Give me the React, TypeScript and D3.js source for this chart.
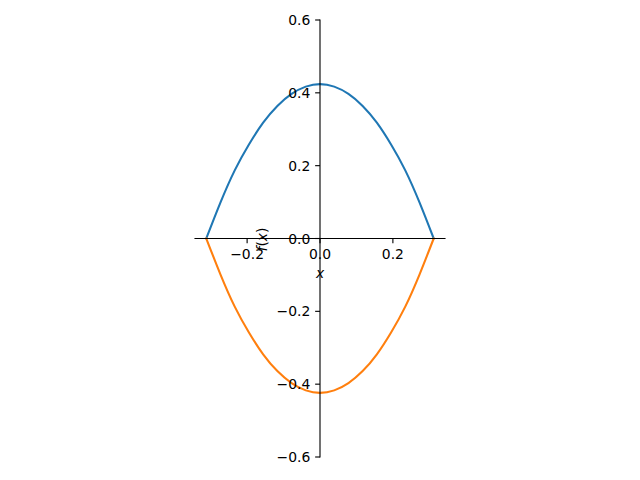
import React from "react";
import * as d3 from "d3";

// Values
const xValues = [-0.312, -0.273, -0.234, -0.195, -0.156, -0.117, -0.078, -0.039, 0, 0.039, 0.078, 0.117, 0.156, 0.195, 0.234, 0.273, 0.312];
const upperValues = [0, 0.099, 0.187, 0.258, 0.318, 0.364, 0.397, 0.417, 0.424, 0.417, 0.397, 0.364, 0.318, 0.258, 0.187, 0.099, 0];
const lowerValues = [0, -0.099, -0.187, -0.258, -0.318, -0.364, -0.397, -0.417, -0.424, -0.417, -0.397, -0.364, -0.318, -0.258, -0.187, -0.099, 0];
const xTicks = [-0.2, 0.0, 0.2];
const yTicks = [-0.6, -0.4, -0.2, 0.0, 0.2, 0.4, 0.6];
const seriesColors = ["#1f77b4", "#ff7f0e"];

const fmt = (v: number) => v.toFixed(1).replace("-", "\u2212");

export default function App() {
  const W = 640;
  const H = 480;
  const x = d3.scaleLinear().domain([-0.343, 0.343]).range([195, 445]);
  const y = d3.scaleLinear().domain([-0.6, 0.6]).range([457, 20]);
  const line = d3
    .line<number>()
    .x((_, i) => x(xValues[i]))
    .y((d) => y(d))
    .curve(d3.curveNatural);
  const x0 = x(0);
  const y0 = y(0);
  const tickLen = 4.86;
  const font = "'DejaVu Sans', sans-serif";
  const fs = 13.9;
  return (
    <svg
      width={W}
      height={H}
      style={{ position: "absolute", left: 0, top: 0, background: "#fff" }}
      fontFamily={font}
    >
      <rect x={0} y={0} width={W} height={H} fill="#fff" />
      {[upperValues, lowerValues].map((vals, k) => (
        <path
          key={k}
          d={line(vals) || ""}
          fill="none"
          stroke={seriesColors[k]}
          strokeWidth={2.08}
          strokeLinejoin="round"
          strokeLinecap="square"
        />
      ))}
      {/* spines */}
      <line x1={x.range()[0]} x2={x.range()[1]} y1={y0} y2={y0} stroke="#000" strokeWidth={1.11} strokeLinecap="square" />
      <line x1={x0} x2={x0} y1={y.range()[1]} y2={y.range()[0]} stroke="#000" strokeWidth={1.11} strokeLinecap="square" />
      {/* x ticks */}
      {xTicks.map((t) => (
        <g key={"x" + t}>
          <line x1={x(t)} x2={x(t)} y1={y0} y2={y0 + tickLen} stroke="#000" strokeWidth={1.11} />
          <text x={x(t)} y={y0 + 20.5} textAnchor="middle" fontSize={fs} fill="#000">
            {fmt(t)}
          </text>
        </g>
      ))}
      {/* y ticks */}
      {yTicks.map((t) => (
        <g key={"y" + t}>
          <line x1={x0} x2={x0 - tickLen} y1={y(t)} y2={y(t)} stroke="#000" strokeWidth={1.11} />
          <text x={x0 - 9.7} y={y(t) + 5} textAnchor="end" fontSize={fs} fill="#000">
            {fmt(t)}
          </text>
        </g>
      ))}
      {/* axis labels */}
      <text x={x0} y={y0 + 39} textAnchor="middle" fontSize={fs} fontStyle="italic" fill="#000">
        x
      </text>
      <text
        transform={`translate(${267},${y0 + 1}) rotate(-90)`}
        textAnchor="middle"
        fontSize={fs}
        fill="#000"
      >
        <tspan fontStyle="italic">f</tspan>
        <tspan>(</tspan>
        <tspan fontStyle="italic">x</tspan>
        <tspan>)</tspan>
      </text>
    </svg>
  );
}
